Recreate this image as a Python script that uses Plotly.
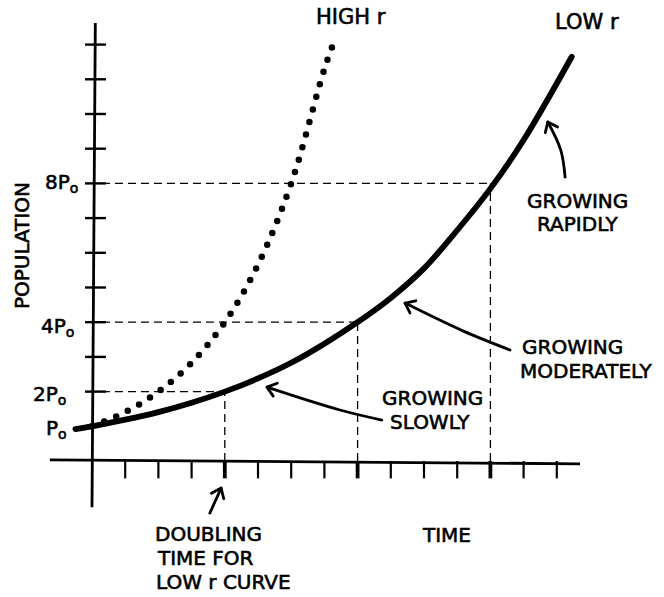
import math
import plotly.graph_objects as go

# Time measured in tick units, population in multiples of P0
low_t = [-0.5, 0, 1, 2, 3, 4, 5, 6, 7, 8, 9, 10, 11, 12, 13, 14.45]
low_p = [0.92, 1.0, 1.19, 1.41, 1.68, 2.0, 2.38, 2.83, 3.38, 4.0, 4.7, 5.55, 6.65, 7.85, 9.25, 11.65]

high_t = [0, 1, 2, 3, 4, 5, 6, 7, 7.3]
high_p = [1.0, 1.41, 2.0, 2.83, 4.0, 5.66, 8.0, 11.3, 12.1]

# Doubling points on the low-r curve (time, population)
double_t = [4, 8, 12]
double_p = [2, 4, 8]

y_tick_vals = [2, 3, 4, 5, 6, 7, 8, 9, 10, 11, 12]
x_tick_vals = [1, 2, 3, 4, 5, 6, 7, 8, 9, 10, 11, 12, 13, 14]
y_tick_labels = {8: "8P<sub>o</sub>", 4: "4P<sub>o</sub>", 2: "2P<sub>o</sub>", 1: "P<sub>o</sub>"}

W, H = 664, 597
X_RANGE = [-2.771, 17.229]
Y_RANGE = [-3.919, 13.285]
SX = W / (X_RANGE[1] - X_RANGE[0])   # px per time unit
SY = H / (Y_RANGE[1] - Y_RANGE[0])   # px per P0

FONT = "DejaVu Sans"
INK = "black"

fig = go.Figure()

# ---- axes -------------------------------------------------------------
shapes = []
shapes.append(dict(type="line", x0=0, y0=-1.33, x1=0.1, y1=12.62,
                   line=dict(color=INK, width=2.8)))
shapes.append(dict(type="line", x0=-1.27, y0=0.03, x1=14.7, y1=-0.08,
                   line=dict(color=INK, width=2.8)))
for v in y_tick_vals:
    shapes.append(dict(type="line", x0=-0.21, y0=v, x1=0.42, y1=v,
                       line=dict(color=INK, width=2.4)))
for v in x_tick_vals:
    thick = v in double_t
    shapes.append(dict(type="line", x0=v, y0=0, x1=v, y1=-0.5,
                       line=dict(color=INK, width=3.8 if thick else 2.2)))

# ---- dashed guide lines at the doubling points ------------------------
for t, p in zip(double_t, double_p):
    shapes.append(dict(type="line", x0=0.3, y0=p, x1=t, y1=p,
                       line=dict(color=INK, width=1.3, dash="8px,5px")))
    shapes.append(dict(type="line", x0=t, y0=0, x1=t, y1=p,
                       line=dict(color=INK, width=1.3, dash="8px,5px")))

# ---- growth curves ----------------------------------------------------
fig.add_trace(go.Scatter(x=high_t, y=high_p, mode="lines",
                         line=dict(color=INK, width=6.5, dash="0px,13px", shape="spline"),
                         hoverinfo="skip", showlegend=False))
fig.add_trace(go.Scatter(x=low_t, y=low_p, mode="lines",
                         line=dict(color=INK, width=5.8, shape="spline"),
                         hoverinfo="skip", showlegend=False))

# ---- hand-drawn pointer arrows ----------------------------------------
arrows = [
    ([3.55, 3.89], [-1.50, -0.78]),                       # doubling time
    ([8.73, 7.47, 5.27], [1.18, 1.47, 2.13]),             # growing slowly
    ([12.59, 11.17, 9.43], [3.20, 3.75, 4.55]),           # growing moderately
    ([14.25, 14.12, 13.73], [8.18, 8.96, 9.77]),          # growing rapidly
]
for ax_, ay_ in arrows:
    fig.add_trace(go.Scatter(x=ax_, y=ay_, mode="lines",
                             line=dict(color=INK, width=2.8, shape="spline"),
                             hoverinfo="skip", showlegend=False))
    # open V head, built in screen space then mapped back to data units
    hx, hy = ax_[-1], ay_[-1]
    dx = (ax_[-1] - ax_[-2]) * SX
    dy = (ay_[-1] - ay_[-2]) * SY
    ang = math.atan2(dy, dx)
    wx, wy = [], []
    for s in (1, -1):
        a = ang + math.pi + s * math.radians(38)
        wx.append(hx + 11 * math.cos(a) / SX)
        wy.append(hy + 11 * math.sin(a) / SY)
    fig.add_trace(go.Scatter(x=[wx[0], hx, wx[1]], y=[wy[0], hy, wy[1]], mode="lines",
                             line=dict(color=INK, width=2.8),
                             hoverinfo="skip", showlegend=False))

# ---- text -------------------------------------------------------------
ann = []
def label(text, x, y, size=20, xanchor="center", angle=0):
    ann.append(dict(text=text, x=x, y=y, xref="x", yref="y", showarrow=False,
                    xanchor=xanchor, yanchor="middle", textangle=angle,
                    font=dict(family=FONT, size=size, color=INK)))

label("HIGH r", 7.80, 12.80, size=21)
label("LOW r", 14.91, 12.65, size=21)
label("GROWING", 14.63, 7.48)
label("RAPIDLY", 14.63, 6.84)
label("GROWING", 12.88, 3.29, xanchor="left")
label("MODERATELY", 12.82, 2.60, xanchor="left")
label("GROWING", 10.27, 1.82)
label("SLOWLY", 10.18, 1.12)
label("TIME", 10.69, -2.13)
label("DOUBLING", 1.84, -2.10, xanchor="left")
label("TIME FOR", 1.90, -2.80, xanchor="left")
label("LOW r CURVE", 1.86, -3.49, xanchor="left")
label("POPULATION", -2.11, 6.22, angle=-90)

label_y = {8: 8.0, 4: 3.85, 2: 1.9, 1: 0.92}
label_x = {8: -0.36, 4: -0.48, 2: -0.72, 1: -0.68}
for v, txt in y_tick_labels.items():
    label(txt, label_x[v], label_y[v], size=20, xanchor="right")

fig.update_layout(
    width=W, height=H,
    margin=dict(l=0, r=0, t=0, b=0),
    paper_bgcolor="white", plot_bgcolor="white",
    xaxis=dict(range=X_RANGE, visible=False, fixedrange=True),
    yaxis=dict(range=Y_RANGE, visible=False, fixedrange=True),
    shapes=shapes, annotations=ann, showlegend=False,
)

# round line caps turn the zero-length dashes into round dots;
# a thin outline gives the lettering a marker-pen weight
page_style = (
    "var s=document.createElement('style');"
    "s.textContent='.scatterlayer .js-line{stroke-linecap:round;stroke-linejoin:round}"
    " .annotation-text{stroke:black;stroke-width:0.6px}';"
    "document.head.appendChild(s);"
)
fig.write_html("out.html", post_script=page_style)
